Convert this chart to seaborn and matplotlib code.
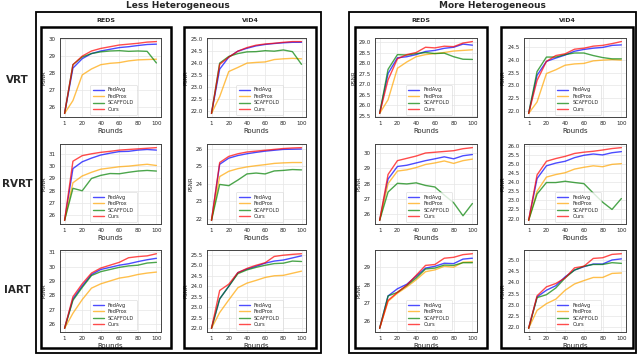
import numpy as np
import pandas as pd
import seaborn as sns
import matplotlib.pyplot as plt
from matplotlib.patches import Rectangle
from matplotlib.ticker import MultipleLocator

rounds = [1, 10, 20, 30, 40, 50, 60, 70, 80, 90, 100]
methods = ['FedAvg', 'FedProx', 'SCAFFOLD', 'Ours']
colors = ['blue', 'orange', 'green', 'red']

# values, order: FedAvg, FedProx, SCAFFOLD, Ours
less_reds_vrt = [
    [25.65, 28.3, 28.85, 29.15, 29.3, 29.4, 29.5, 29.55, 29.62, 29.68, 29.7],
    [25.65, 26.4, 27.9, 28.25, 28.5, 28.58, 28.62, 28.72, 28.78, 28.8, 28.82],
    [25.65, 28.5, 28.95, 29.15, 29.25, 29.3, 29.32, 29.28, 29.3, 29.28, 28.6],
    [25.65, 28.5, 29.0, 29.3, 29.45, 29.55, 29.65, 29.7, 29.75, 29.82, 29.85]]
less_vid4_vrt = [
    [21.9, 23.75, 24.25, 24.5, 24.62, 24.72, 24.78, 24.82, 24.85, 24.87, 24.87],
    [21.9, 22.6, 23.65, 23.82, 24.0, 24.03, 24.05, 24.15, 24.18, 24.2, 24.18],
    [21.9, 24.0, 24.28, 24.4, 24.47, 24.48, 24.52, 24.5, 24.55, 24.48, 23.95],
    [21.9, 23.95, 24.25, 24.5, 24.65, 24.75, 24.8, 24.83, 24.87, 24.9, 24.9]]
more_reds_vrt = [
    [25.6, 27.5, 28.25, 28.3, 28.4, 28.55, 28.6, 28.7, 28.75, 28.9, 28.85],
    [25.6, 26.25, 27.75, 28.05, 28.3, 28.4, 28.45, 28.5, 28.57, 28.6, 28.63],
    [25.6, 27.7, 28.4, 28.38, 28.45, 28.5, 28.45, 28.47, 28.3, 28.18, 28.17],
    [25.6, 27.2, 28.2, 28.4, 28.5, 28.75, 28.72, 28.8, 28.78, 28.95, 29.02]]
more_vid4_vrt = [
    [21.9, 23.4, 23.95, 24.08, 24.2, 24.35, 24.42, 24.47, 24.5, 24.58, 24.6],
    [21.9, 22.35, 23.47, 23.62, 23.8, 23.85, 23.87, 23.97, 24.0, 24.02, 24.0],
    [21.9, 23.55, 24.12, 24.12, 24.22, 24.28, 24.28, 24.18, 24.1, 24.05, 24.05],
    [21.9, 23.2, 23.95, 24.18, 24.25, 24.43, 24.47, 24.55, 24.58, 24.65, 24.73]]

less_reds_rvrt = [
    [25.6, 29.8, 30.35, 30.65, 30.9, 31.05, 31.18, 31.2, 31.3, 31.35, 31.3],
    [25.6, 28.65, 29.2, 29.5, 29.75, 29.85, 29.95, 30.0, 30.08, 30.15, 30.05],
    [25.6, 28.2, 28.0, 29.0, 29.25, 29.4, 29.38, 29.5, 29.6, 29.65, 29.6],
    [25.6, 30.4, 30.85, 31.0, 31.12, 31.2, 31.3, 31.35, 31.4, 31.45, 31.5]]
less_vid4_rvrt = [
    [21.9, 25.1, 25.45, 25.6, 25.7, 25.78, 25.85, 25.9, 25.95, 25.96, 25.97],
    [21.9, 24.4, 24.7, 24.85, 24.95, 25.02, 25.08, 25.15, 25.18, 25.2, 25.2],
    [21.9, 23.95, 23.88, 24.2, 24.55, 24.6, 24.55, 24.72, 24.75, 24.8, 24.78],
    [21.9, 25.2, 25.55, 25.7, 25.8, 25.85, 25.9, 25.95, 26.0, 26.03, 26.05]]
more_reds_rvrt = [
    [25.6, 28.3, 29.12, 29.2, 29.35, 29.5, 29.62, 29.75, 29.62, 29.82, 29.9],
    [25.6, 28.0, 28.82, 28.9, 29.05, 29.25, 29.35, 29.48, 29.32, 29.5, 29.6],
    [25.6, 27.45, 28.02, 27.98, 28.05, 27.88, 27.78, 27.25, 26.75, 25.9, 26.7],
    [25.6, 28.6, 29.5, 29.65, 29.8, 30.0, 30.05, 30.1, 30.15, 30.28, 30.35]]
more_vid4_rvrt = [
    [21.9, 24.2, 24.9, 25.05, 25.15, 25.35, 25.48, 25.55, 25.5, 25.62, 25.68],
    [21.9, 23.5, 24.28, 24.42, 24.52, 24.72, 24.82, 24.9, 24.85, 24.98, 25.02],
    [21.9, 23.35, 23.98, 23.98, 24.05, 23.98, 23.92, 23.4, 22.9, 22.5, 23.1],
    [21.9, 24.4, 25.15, 25.3, 25.42, 25.58, 25.65, 25.7, 25.77, 25.85, 25.9]]

less_reds_iart = [
    [25.7, 27.75, 28.65, 29.45, 29.8, 29.95, 30.1, 30.2, 30.35, 30.48, 30.58],
    [25.7, 26.75, 27.7, 28.5, 28.8, 29.0, 29.2, 29.3, 29.45, 29.55, 29.62],
    [25.7, 27.65, 28.55, 29.38, 29.65, 29.8, 29.95, 30.05, 30.1, 30.25, 30.3],
    [25.7, 27.9, 28.8, 29.55, 29.9, 30.1, 30.3, 30.62, 30.7, 30.75, 30.9]]
less_vid4_iart = [
    [22.0, 23.4, 24.0, 24.65, 24.82, 24.95, 25.1, 25.2, 25.25, 25.35, 25.45],
    [22.0, 22.75, 23.35, 23.93, 24.15, 24.28, 24.42, 24.5, 24.52, 24.62, 24.72],
    [22.0, 23.4, 24.0, 24.6, 24.78, 24.9, 25.0, 25.08, 25.1, 25.2, 25.18],
    [22.0, 23.8, 24.1, 24.65, 24.85, 25.0, 25.12, 25.42, 25.48, 25.52, 25.55]]
more_reds_iart = [
    [25.6, 27.4, 27.8, 28.05, 28.5, 28.95, 29.05, 29.22, 29.2, 29.45, 29.5],
    [25.6, 27.1, 27.55, 27.9, 28.3, 28.75, 28.85, 29.05, 29.0, 29.28, 29.3],
    [25.6, 27.4, 27.6, 27.98, 28.4, 28.9, 28.95, 29.12, 29.1, 29.25, 29.25],
    [25.6, 27.15, 27.6, 28.0, 28.55, 29.1, 29.15, 29.5, 29.55, 29.7, 29.75]]
more_vid4_iart = [
    [21.95, 23.35, 23.65, 23.85, 24.25, 24.55, 24.7, 24.82, 24.82, 25.0, 25.05],
    [21.95, 22.75, 23.05, 23.25, 23.65, 23.93, 24.08, 24.22, 24.22, 24.4, 24.42],
    [21.95, 23.32, 23.45, 23.75, 24.2, 24.55, 24.72, 24.8, 24.8, 24.88, 24.85],
    [21.95, 23.4, 23.8, 23.95, 24.2, 24.65, 24.72, 25.07, 25.1, 25.25, 25.28]]

row_names = ['VRT', 'RVRT', 'IART']

sns.set_style("whitegrid")
plt.rcParams['font.family'] = ['DejaVu Sans']

W, H = 640, 355
fig = plt.figure(figsize=(6.4, 3.55), dpi=100)

def px_rect(x0, y0, x1, y1):
    return [x0 / W, 1 - y1 / H, (x1 - x0) / W, (y1 - y0) / H]

def frame(x0, y0, x1, y1, lw):
    r = Rectangle((x0 / W, 1 - y1 / H), (x1 - x0) / W, (y1 - y0) / H,
                  transform=fig.transFigure, fill=False, edgecolor='black', linewidth=lw)
    fig.add_artist(r)

# big frames and column frames
frame(36, 12, 321, 353, 1.3)
frame(349, 12, 636, 353, 1.3)
col_frames = [(41, 171), (184, 316), (355, 487), (501, 633)]
for x0, x1 in col_frames:
    frame(x0, 27, x1, 348, 1.8)

fig.text(178 / W, 1 - 5 / H, 'Less Heterogeneous', ha='center', va='center', fontsize=6.5, fontweight='bold')
fig.text(492 / W, 1 - 5 / H, 'More Heterogeneous', ha='center', va='center', fontsize=6.5, fontweight='bold')
for (x0, x1), name in zip(col_frames, ['REDS', 'VID4', 'REDS', 'VID4']):
    fig.text((x0 + x1) / 2 / W, 1 - 20 / H, name, ha='center', va='center', fontsize=4.5, fontweight='bold')

for name, yc in zip(row_names, [80, 184, 290]):
    fig.text(17 / W, 1 - yc / H, name, ha='center', va='center', fontsize=7.5, fontweight='bold')

axes_x = [(60, 161), (207, 306), (375, 477), (524, 626)]
axes_y = [(38, 117), (144, 224), (250, 332)]

panels = [
    [less_reds_vrt, less_vid4_vrt, more_reds_vrt, more_vid4_vrt],
    [less_reds_rvrt, less_vid4_rvrt, more_reds_rvrt, more_vid4_rvrt],
    [less_reds_iart, less_vid4_iart, more_reds_iart, more_vid4_iart],
]
steps = [
    [1, 0.5, 0.5, 0.5],
    [1, 1, 1, 0.5],
    [1, 0.5, 1, 0.5],
]

for r, (y0, y1) in enumerate(axes_y):
    for c, (x0, x1) in enumerate(axes_x):
        ax = fig.add_axes(px_rect(x0, y0, x1, y1))
        series = panels[r][c]
        df = pd.DataFrame({
            'Rounds': rounds * 4,
            'PSNR': sum(series, []),
            'Method': [m for m in methods for _ in rounds],
        })
        sns.lineplot(data=df, x='Rounds', y='PSNR', hue='Method', palette=colors,
                     hue_order=methods, linewidth=1.0, alpha=0.7, ax=ax)
        ax.set_xticks([1, 20, 40, 60, 80, 100])
        ax.yaxis.set_major_locator(MultipleLocator(steps[r][c]))
        ax.tick_params(labelsize=4, length=1.5, pad=1.5, width=0.5)
        ax.set_xlabel('Rounds', fontsize=5, labelpad=1)
        ax.set_ylabel('PSNR', fontsize=4, labelpad=1.5)
        ax.grid(True, color='#e6e6e6', linewidth=0.5)
        for s in ax.spines.values():
            s.set_color('#444444')
            s.set_linewidth(0.7)
        leg = ax.legend(loc='lower center', bbox_to_anchor=(0.53, 0.0), fontsize=3.6,
                        handlelength=2.2, borderpad=0.5, labelspacing=0.3, frameon=True)
        leg.get_frame().set_linewidth(0.4)
        leg.get_frame().set_edgecolor('#cccccc')

fig.savefig('out.png', dpi=100)
